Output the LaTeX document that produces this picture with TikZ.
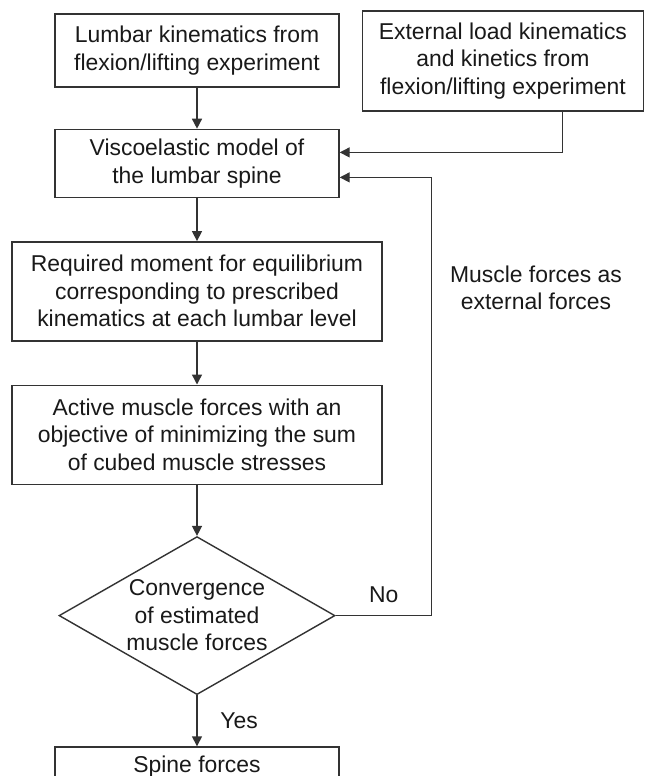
\documentclass[tikz,border=0pt]{standalone}
\usepackage{fontspec}
\setmainfont{Liberation Sans}
\usepackage{xcolor}
\usepackage{tikz}
\usetikzlibrary{arrows.meta, positioning, shapes.geometric}
\tikzset{
  kotak/.style={rectangle, draw=black!80, line width=0.7pt, text=black!90,
    minimum width=142pt, minimum height=34pt, align=center,
    font=\fontsize{11.45}{13.75}\selectfont},
  belah/.style={diamond, draw=black!80, line width=0.7pt, text=black!90, aspect=1.75,
    inner sep=0pt, minimum width=138pt, minimum height=79pt, align=center,
    font=\fontsize{11.45}{13.75}\selectfont},
  teks/.style={text=black!90, align=center, font=\fontsize{11.45}{13.75}\selectfont},
  panah/.style={-{Triangle[length=5pt, width=5pt]}, line width=0.7pt, black!80}
}
\begin{document}
\begin{tikzpicture}[node distance=20.5pt]
  \clip (0,0) rectangle (322.5pt,-388pt);
  \node[kotak, minimum height=36.5pt] (p1) at (98.5pt,-25.25pt)
    {Lumbar kinematics from\\flexion/lifting experiment};
  \node[kotak, minimum width=140.5pt, minimum height=50pt,
    right=11pt of p1.north east, anchor=north west, yshift=1.5pt] (luar)
    {External load kinematics\\and kinetics from\\flexion/lifting experiment};
  \node[kotak, below=of p1] (p2) {Viscoelastic model of\\the lumbar spine};
  \node[kotak, minimum width=185pt, minimum height=49.5pt, below=21.5pt of p2] (p3)
    {Required moment for equilibrium\\corresponding to prescribed\\kinematics at each lumbar level};
  \node[kotak, minimum width=185pt, minimum height=49.5pt, below=21.5pt of p3] (p4)
    {Active muscle forces with an\\objective of minimizing the sum\\of cubed muscle stresses};
  \node[belah, below=25.5pt of p4] (konv) {Convergence\\of estimated\\muscle forces};
  \node[kotak, minimum height=20pt, below=25.5pt of konv] (p5) {Spine forces};
  \node[teks] (ket) at (268pt,-144pt) {Muscle forces as\\external forces};

  \draw[panah] (p1) -- (p2);
  \draw[panah] ([xshift=29.75pt]luar.south) |- ([yshift=5.5pt]p2.east);
  \draw[panah] (p2) -- (p3);
  \draw[panah] (p3) -- (p4);
  \draw[panah] (p4) -- (konv);
  \draw[panah] (konv.east) -- node[teks, midway, above=3pt] (tidak) {No}
    ++(48pt,0) coordinate (belok) |- ([yshift=-7pt]p2.east);
  \draw[panah] (konv) -- node[teks, midway, right=8pt] (ya) {Yes} (p5);
\end{tikzpicture}
\end{document}
